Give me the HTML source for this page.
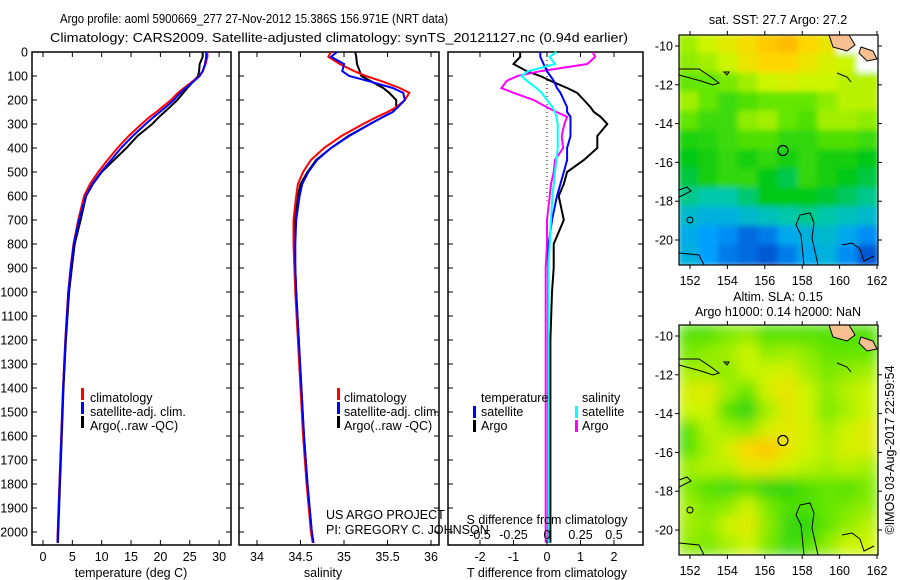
<!DOCTYPE html>
<html><head><meta charset="utf-8"><style>
html,body{margin:0;padding:0;background:#fff;}
svg{display:block;font-family:"Liberation Sans",sans-serif;}
</style></head><body>
<svg id="chart" width="900" height="580" viewBox="0 0 900 580">
<defs>
<filter id="blur1" x="0" y="0" width="1" height="1"><feGaussianBlur stdDeviation="3"/></filter>
<filter id="blur2" x="0" y="0" width="1" height="1"><feGaussianBlur stdDeviation="7"/></filter>
<clipPath id="clipTop"><rect x="679" y="35" width="199" height="230"/></clipPath>
<clipPath id="clipBot"><rect x="679" y="325" width="199" height="230"/></clipPath>
</defs>
<text x="60" y="23" font-size="13" textLength="388" lengthAdjust="spacingAndGlyphs">Argo profile: aoml 5900669_277 27-Nov-2012 15.386S 156.971E (NRT data)</text>
<text x="50" y="42" font-size="13" textLength="578" lengthAdjust="spacingAndGlyphs">Climatology: CARS2009. Satellite-adjusted climatology: synTS_20121127.nc (0.94d earlier)</text>
<g id="panels"></g>
<g id="maps"></g>
</svg>
<script>
// ---- profile data ----
const depths   = [0,20,50,80,100,120,150,170,200,230,250,270,300,350,400,450,500,550,600,700,800,900,1000,1200,1400,1600,1800,2000,2045];
const tempClim = [28,28,27.7,27.2,26.6,25.6,24,23,21.8,20.3,19.3,18.2,16.8,14.6,12.7,11,9.4,8,7,6,5.2,4.7,4.3,3.8,3.4,3.1,2.8,2.5,2.45];
const tempSat  = [27.8,27.8,27.6,27.2,26.7,25.8,24.3,23.4,22.3,20.9,19.9,18.9,17.5,15.3,13.3,11.6,9.9,8.4,7.3,6.15,5.25,4.73,4.33,3.83,3.43,3.13,2.83,2.53,2.48];
const tempArgo = [27.2,27.2,26.7,26.6,26.4,25.7,24.6,23.9,22.9,21.6,20.7,19.8,18.6,16.1,14.2,12.1,10,8.5,7.35,6.4,5.4,4.9,4.45,3.9,3.5,3.2,2.9,2.6,2.55];
const salClim  = [34.85,34.82,34.95,35.12,35.25,35.42,35.64,35.75,35.7,35.6,35.5,35.38,35.22,34.97,34.77,34.62,34.53,34.47,34.45,34.42,34.42,34.43,34.44,34.47,34.5,34.53,34.57,34.62,34.64];
const salSat   = [34.92,34.85,35.0,34.98,35.06,35.27,35.56,35.68,35.7,35.62,35.56,35.45,35.3,35.06,34.85,34.69,34.59,34.52,34.49,34.45,34.44,34.44,34.45,34.48,34.51,34.54,34.58,34.63,34.65];
const salArgo  = [35.13,35.14,35.15,35.18,35.2,35.3,35.45,35.52,35.6,35.6,35.56,35.45,35.3,35.05,34.85,34.68,34.58,34.5,34.47,34.43,34.43,34.44,34.45,34.48,34.51,34.54,34.58,34.63,34.65];
const tDiffSat  = [-0.2,-0.2,-0.1,0,0.1,0.2,0.3,0.4,0.5,0.6,0.6,0.7,0.7,0.7,0.6,0.6,0.5,0.4,0.3,0.15,0.05,0.03,0.03,0.03,0.03,0.03,0.03,0.03,0.03];
const tDiffArgo = [-0.8,-0.8,-1.0,-0.6,-0.2,0.1,0.6,0.9,1.1,1.3,1.4,1.6,1.8,1.5,1.5,1.1,0.6,0.5,0.35,0.5,0.2,0.2,0.15,0.1,0.1,0.1,0.1,0.1,0.1];
const sDiffSat  = [0.07,0.02,0.06,-0.14,-0.19,-0.15,-0.08,-0.04,0,0.04,0.06,0.07,0.08,0.08,0.08,0.07,0.06,0.05,0.04,0.03,0.02,0.01,0.01,0.01,0.01,0.01,0.01,0.01,0.01];
const sDiffArgo = [0.34,0.36,0.3,-0.05,-0.22,-0.3,-0.34,-0.25,-0.1,0,0.07,0.15,0.13,0.11,0.12,0.06,0.05,0.03,0.02,0,0,-0.01,-0.01,-0.01,-0.01,-0.01,-0.01,-0.01,-0.01];
const depthTicks = [0,100,200,300,400,500,600,700,800,900,1000,1100,1200,1300,1400,1500,1600,1700,1800,1900,2000];
const tempTicks = [0,5,10,15,20,25,30];
const salTicks = [34,34.5,35,35.5,36];
const tDiffTicks = [-2,-1,0,1,2];
const sDiffTicks = [-0.5,-0.25,0,0.25,0.5];
const sDiffLabels = ['-0.5','-0.25','0','0.25','0.5'];
// ---- map data (normalized colour values; null = no data) ----
const sstGrid = [
[.66,.70,.74,.78,.83,.86,.80,.76,null,null],
[.64,.66,.70,.76,.80,.80,.76,.72,.70,null],
[.60,.60,.62,.66,.70,.72,.70,.70,.68,.68],
[.66,.60,.56,.58,.60,.60,.60,.64,.68,.68],
[.60,.56,.56,.64,.66,.60,.58,.66,.66,.64],
[.53,.54,.56,.58,.58,.55,.55,.58,.58,.56],
[.50,.52,.55,.52,.55,.52,.55,.52,.52,.50],
[.47,.52,.55,.55,.50,.46,.55,.52,.50,.47],
[.42,.40,.40,.44,.50,.50,.50,.48,.45,.42],
[.36,.34,.34,.36,.38,.40,.42,.40,.38,.36],
[.33,.30,.28,.24,.26,.32,.34,.36,.32,.28],
[.34,.30,.26,.24,.22,.26,.32,.34,.28,.22]];
const slaGrid = [
[.58,.58,.62,.64,.58,.58,.58,.58,.58,.58],
[.62,.64,.66,.70,.64,.66,.64,.60,.60,.60],
[.66,.66,.64,.69,.70,.72,.66,.62,.64,.66],
[.72,.74,.66,.60,.72,.76,.70,.64,.68,.70],
[.70,.70,.58,.54,.66,.74,.70,.62,.66,.70],
[.58,.68,.66,.64,.72,.74,.72,.66,.70,.74],
[.58,.66,.72,.80,.84,.76,.70,.68,.72,.72],
[.66,.68,.68,.74,.74,.70,.68,.66,.68,.66],
[.62,.58,.56,.58,.54,.54,.58,.60,.58,.62],
[.66,.62,.64,.70,.62,.58,.58,.60,.62,.64],
[.66,.64,.70,.74,.64,.56,.54,.60,.64,.68],
[.64,.62,.66,.70,.62,.56,.58,.64,.70,.70]];
const lonTicks = [152,154,156,158,160,162];
const latTicks = [-10,-12,-14,-16,-18,-20];
const argoLon = 156.971, argoLat = -15.386;

const NS='http://www.w3.org/2000/svg';
function mk(tag, attrs, parent){const e=document.createElementNS(NS,tag);for(const k in attrs)e.setAttribute(k,attrs[k]);parent.appendChild(e);return e;}
const panels=document.getElementById('panels');
const maps=document.getElementById('maps');
const TOP=52, BOT=545;
const yD = d => TOP + d*0.24;
const xT = t => 43 + t*5.87;
const xS = s => 344 + (s-35)*87;
const xTd = v => 547 + v*33.5;
const xSd = v => 547 + v*134;

function line(xs, fn, color, name, width){
  const pts = xs.map((v,i)=>fn(v).toFixed(1)+','+yD(depths[i]).toFixed(1)).join(' ');
  const p = mk('polyline',{points:pts,fill:'none',stroke:color,'stroke-width':width||2},panels);
  
  
}
function frame(x0,x1,name){
  const r = mk('rect',{x:x0,y:TOP,width:x1-x0,height:BOT-TOP,fill:'none',stroke:'#000','stroke-width':1.5},panels);
  
  
  depthTicks.forEach(d=>{
    mk('line',{x1:x0,x2:x0+5,y1:yD(d),y2:yD(d),stroke:'#000'},panels);
    mk('line',{x1:x1-5,x2:x1,y1:yD(d),y2:yD(d),stroke:'#000'},panels);
  });
}
function xticks(ticks, fn, y, name){
  ticks.forEach(t=>{
    const x=fn(t);
    mk('line',{x1:x,x2:x,y1:TOP,y2:TOP+5,stroke:'#000'},panels);
    mk('line',{x1:x,x2:x,y1:BOT-5,y2:BOT,stroke:'#000'},panels);
    const tx=mk('text',{x:x,y:y,'font-size':12.5,'text-anchor':'middle'},panels);
    tx.textContent = String(t);
    
    
  });
}
function txt(x,y,s,name,anchor,size){
  const t=mk('text',{x:x,y:y,'font-size':size||12.5,'text-anchor':anchor||'start'},panels);
  t.textContent=s;
  
  
  return t;
}
function legBar(x,y,color,name){
  const r=mk('rect',{x:x,y:y-10,width:3,height:12,fill:color},panels);
  
  
}

depthTicks.forEach(d=>{
  const t=mk('text',{x:28,y:yD(d)+4.5,'font-size':12.5,'text-anchor':'end'},panels);
  t.textContent=String(d);
  
  
});

// Panel 1
frame(32,231,'temperature-panel');
line(tempArgo,xT,'#000','temp-argo-line');
line(tempClim,xT,'#f00','temp-clim-line');
line(tempSat,xT,'#00f','temp-sat-line');
xticks(tempTicks,xT,561,'temp-tick-label');
txt(131,577,'temperature (deg C)','temp-axis-title','middle');
legBar(81,398,'#f00','legend-clim-marker'); txt(90,402,'climatology','legend-climatology');
legBar(81,412,'#00f','legend-sat-marker'); txt(90,416,'satellite-adj. clim.','legend-satellite');
legBar(81,426,'#000','legend-argo-marker'); txt(90,430,'Argo(..raw -QC)','legend-argo');

// Panel 2
frame(239,439,'salinity-panel');
line(salArgo,xS,'#000','sal-argo-line');
line(salClim,xS,'#f00','sal-clim-line');
line(salSat,xS,'#00f','sal-sat-line');
xticks(salTicks,xS,561,'sal-tick-label');
txt(323,577,'salinity','sal-axis-title','middle');
legBar(337,398,'#f00','legend-clim-marker-2'); txt(344,402,'climatology','legend-climatology-2');
legBar(337,412,'#00f','legend-sat-marker-2'); txt(344,416,'satellite-adj. clim.','legend-satellite-2');
legBar(337,426,'#000','legend-argo-marker-2'); txt(344,430,'Argo(..raw -QC)','legend-argo-2');
txt(326,519,'US ARGO PROJECT','project-credit');
txt(326,534,'PI: GREGORY C. JOHNSON','pi-credit');

// Panel 3
frame(448,643,'difference-panel');
const zl=mk('line',{x1:547,x2:547,y1:TOP,y2:yD(620),stroke:'#000','stroke-dasharray':'1,3'},panels);


line(tDiffArgo,xTd,'#000','tdiff-argo-line');
line(sDiffArgo,xSd,'#f0f','sdiff-argo-line');
line(tDiffSat,xTd,'#00f','tdiff-sat-line');
line(sDiffSat,xSd,'#0ff','sdiff-sat-line');
xticks(tDiffTicks,xTd,561,'tdiff-tick-label');
sDiffTicks.forEach((v,i)=>{ txt(xSd(v),539,sDiffLabels[i],'sdiff-tick-label','middle'); });
txt(547,524,'S difference from climatology','sdiff-axis-title','middle');
txt(547,577,'T difference from climatology','tdiff-axis-title','middle');
txt(481,402,'temperature','legend-temperature-header');
legBar(473,416,'#00f','legend-tsat-marker'); txt(481,416,'satellite','legend-t-satellite');
legBar(473,430,'#000','legend-targo-marker'); txt(481,430,'Argo','legend-t-argo');
txt(582,402,'salinity','legend-salinity-header');
legBar(575,416,'#0ff','legend-ssat-marker'); txt(582,416,'satellite','legend-s-satellite');
legBar(575,430,'#f0f','legend-sargo-marker'); txt(582,430,'Argo','legend-s-argo');

// ---- maps ----
const stops=[[0.2,[0,70,200]],[0.3,[0,160,255]],[0.4,[0,200,170]],[0.5,[0,200,20]],[0.6,[100,230,0]],[0.7,[205,245,0]],[0.8,[255,215,0]],[0.9,[255,170,0]]];
function cmap(v){
  if(v<=stops[0][0])return stops[0][1];
  for(let i=1;i<stops.length;i++){if(v<=stops[i][0]){const a=stops[i-1],b=stops[i],f=(v-a[0])/(b[0]-a[0]);return a[1].map((c,j)=>Math.round(c+(b[1][j]-c)*f));}}
  return stops[stops.length-1][1];
}
const MX0=679, MX1=878;
const xLon = lon => 690 + (lon-152)*18.7;
function drawMap(grid, y0, clip, filt, name, title){
  const g=mk('g',{'clip-path':'url(#'+clip+')'},maps);
  
  
  const inner=mk('g',{filter:'url(#'+filt+')'},g);
  const rows=grid.length, cols=grid[0].length;
  const cw=(MX1-MX0)/cols, ch=230/rows;
  mk('rect',{x:MX0,y:y0,width:199,height:230,fill:'#fff'},inner);
  grid.forEach((row,r)=>row.forEach((v,c)=>{
    const col = v===null ? [255,255,255] : cmap(v);
    mk('rect',{x:MX0+c*cw-1,y:y0+r*ch-1,width:cw+2,height:ch+2,fill:'rgb('+col.join(',')+')'},inner);
  }));
  mk('path',{d:`M${MX0+150},${y0} l20,0 l6,10 l-8,6 l-14,-4 z M${MX0+182},${y0+12} l12,4 l4,8 l-10,2 l-8,-8 z`,fill:'#f8c090',stroke:'#000','stroke-width':1},g);
  mk('path',{d:`M${MX0},${y0+34} l20,0 l12,8 l8,6 l-6,2 l-12,-4 l-22,-6 M${MX0+45},${y0+37} l5,0 l-2,3 z M${MX0+158},${y0+38} l10,4 l4,5`,fill:'none',stroke:'#000','stroke-width':1},g);
  mk('path',{d:`M${MX0},${y0+155} l8,-3 l4,4 l-12,6 M${MX0+125},${y0+230} l-3,-30 l-5,-10 l4,-10 l10,-2 l4,10 l-2,15 l6,27 M${MX0+163},${y0+210} l10,-2 l8,6 l4,12 l10,-5 M${MX0},${y0+218} l20,2 l5,10`,fill:'none',stroke:'#000','stroke-width':1},g);
  mk('circle',{cx:MX0+11,cy:y0+185,r:3,fill:'none',stroke:'#000'},g);
  const circ=mk('circle',{cx:xLon(argoLon),cy:y0+11+(-10-argoLat)*19.4,r:5,fill:'none',stroke:'#000','stroke-width':1.2},maps);
  
  
  const fr=mk('rect',{x:MX0,y:y0,width:199,height:230,fill:'none',stroke:'#000','stroke-width':1.2},maps);
  
  
  latTicks.forEach(lat=>{
    const y=y0+11+(-10-lat)*19.4;
    mk('line',{x1:MX0-4,x2:MX0,y1:y,y2:y,stroke:'#000'},maps);
    mk('line',{x1:MX1,x2:MX1+4,y1:y,y2:y,stroke:'#000'},maps);
    const t=mk('text',{x:MX0-6,y:y+4.5,'font-size':12.5,'text-anchor':'end'},maps);
    t.textContent=String(lat);
    
    
  });
  lonTicks.forEach(lon=>{
    const x=xLon(lon);
    mk('line',{x1:x,x2:x,y1:y0-4,y2:y0,stroke:'#000'},maps);
    mk('line',{x1:x,x2:x,y1:y0+230,y2:y0+234,stroke:'#000'},maps);
    const t=mk('text',{x:x,y:y0+250,'font-size':12.5,'text-anchor':'middle'},maps);
    t.textContent=String(lon);
    
    
  });
  title.forEach((s,i)=>{
    const ty = title.length===1 ? y0-11 : y0-24+i*15;
    const t=mk('text',{x:778,y:ty,'font-size':12.5,'text-anchor':'middle'},maps);
    t.textContent=s;
    
    
  });
}
drawMap(sstGrid,35,'clipTop','blur1','sst-map',['sat. SST: 27.7 Argo: 27.2']);
drawMap(slaGrid,325,'clipBot','blur2','sla-map',['Altim. SLA: 0.15','Argo h1000: 0.14 h2000: NaN']);
const stamp=mk('text',{x:0,y:0,'font-size':12.5,'text-anchor':'middle',transform:'translate(894,450) rotate(-90)'},maps);
stamp.textContent='©IMOS 03-Aug-2017 22:59:54';


</script>
</body></html>
